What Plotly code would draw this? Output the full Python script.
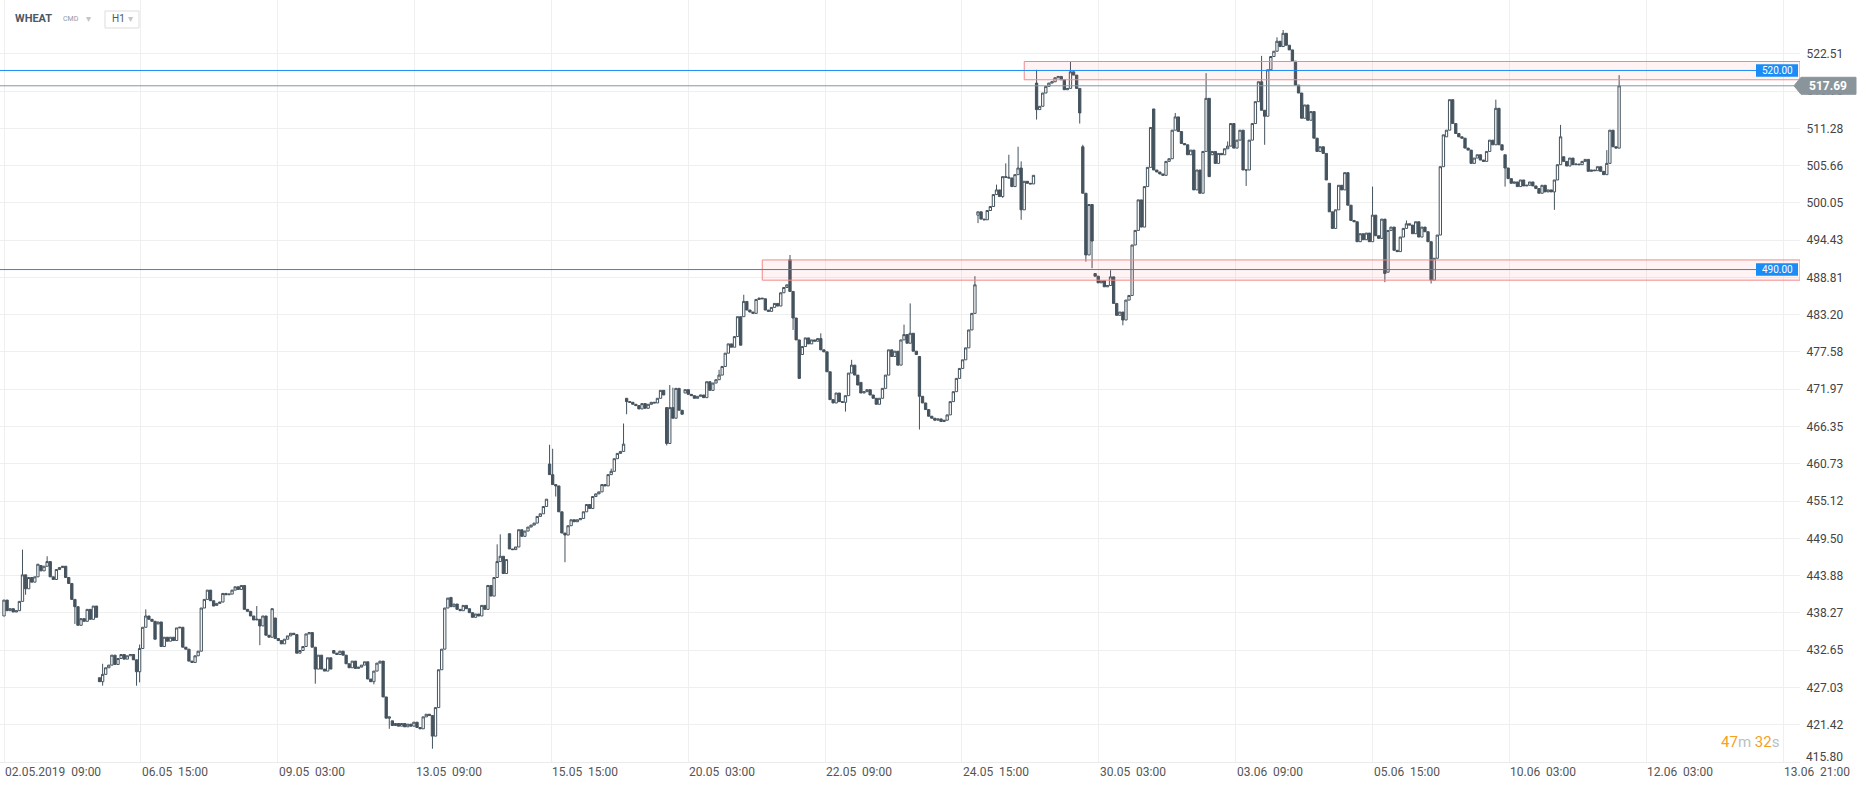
import plotly.graph_objects as go

# ---------------- data (hourly bars, 02:00-20:00 sessions) ----------------
days = ["02.05", "03.05", "06.05", "07.05", "08.05", "09.05", "10.05", "13.05",
        "14.05", "15.05", "16.05", "17.05", "20.05", "21.05", "22.05", "23.05",
        "24.05", "28.05", "29.05", "30.05", "31.05", "03.06", "04.06", "05.06",
        "06.06", "07.06", "10.06", "11.06"]
first_hours = [9] + [2] * 27
day_opens = [437.8, 445.4, 428.5, 436.6, 439.4, 437.5, 432.6, 422.0,
             440.6, 450.2, 450.0, 470.6, 471.4, 482.9, 477.2, 473.0,
             476.9, 498.2, 518.1, 489.4, 514.2, 507.3, 520.1, 503.0,
             489.6, 510.0, 507.3, 507.0]

c_0205 = [440.2, 438.6, 438.9, 438.4, 438.6, 440.0, 444.0, 441.9, 443.6, 442.9, 443.7, 445.6]
c_0305 = [444.6, 445.3, 446.0, 443.7, 443.3, 444.8, 445.1, 445.3, 443.6, 442.7, 440.3, 439.2,
          436.4, 437.4, 437.0, 438.8, 437.3, 439.3, 437.6]
c_0605 = [427.9, 429.0, 430.0, 430.4, 431.9, 430.5, 431.4, 432.0, 431.3, 431.8, 432.0, 431.2,
          429.4, 432.9, 436.1, 437.8, 437.3, 437.0, 434.3]
c_0705 = [436.9, 433.2, 434.6, 434.0, 434.6, 434.1, 436.0, 436.1, 433.1, 432.8, 431.0, 430.8,
          431.8, 432.5, 439.0, 440.3, 441.7, 440.1, 439.3]
c_0805 = [439.7, 439.9, 441.2, 441.0, 441.1, 441.7, 442.2, 441.8, 442.4, 438.8, 438.5, 437.8,
          437.2, 437.3, 436.3, 437.8, 434.9, 434.6, 438.9]
c_0905 = [434.4, 434.1, 433.6, 434.3, 434.8, 435.2, 435.0, 432.2, 432.6, 433.2, 435.1, 435.3,
          433.1, 429.8, 431.9, 429.8, 429.5, 431.5, 429.8]
c_1005 = [432.2, 432.0, 432.5, 431.9, 430.6, 430.0, 431.0, 429.9, 430.1, 430.4, 430.9, 428.3,
          427.9, 429.5, 430.7, 431.0, 425.6, 422.4, 422.6]
c_1305 = [421.3, 421.6, 421.2, 421.6, 421.1, 421.5, 421.2, 421.8, 421.0, 420.8, 422.6, 423.0,
          422.8, 419.7, 424.0, 429.7, 432.8, 439.0, 440.5]
c_1405 = [439.2, 439.6, 438.8, 438.6, 439.4, 438.9, 438.3, 437.6, 438.1, 437.8, 439.4, 438.8,
          442.4, 440.8, 443.6, 446.0, 446.8, 444.2, 446.3]
c_1505 = [447.9, 447.8, 448.2, 450.8, 449.8, 450.6, 451.2, 451.5, 451.8, 452.8, 453.2, 454.3,
          455.4, 459.1, 457.6, 457.4, 453.5, 450.3, 450.0]
c_1605 = [451.4, 452.3, 452.0, 452.3, 452.5, 453.5, 454.6, 454.0, 455.8, 456.2, 456.5, 457.6,
          457.4, 459.1, 459.6, 461.5, 462.3, 462.6, 463.7]
c_1705 = [470.1, 470.0, 469.7, 469.5, 469.0, 469.8, 469.1, 469.7, 470.0, 469.9, 470.6, 471.8,
          471.1, 463.8, 469.2, 467.6, 472.1, 468.8, 468.2]
c_2005 = [471.9, 471.2, 471.0, 470.6, 470.9, 471.1, 470.7, 473.1, 471.8, 472.9, 473.4, 474.1,
          475.4, 477.4, 478.8, 478.3, 479.9, 482.9, 478.6]
c_2105 = [485.2, 483.9, 483.6, 483.4, 485.5, 485.7, 485.6, 483.9, 483.7, 484.3, 484.9, 484.5,
          486.5, 487.3, 487.7, 486.7, 482.7, 479.4, 473.6]
c_2205 = [478.4, 479.7, 478.8, 479.4, 479.2, 479.6, 477.9, 477.6, 474.6, 470.4, 469.9, 471.4,
          470.1, 470.0, 471.0, 474.4, 475.6, 474.1, 472.6]
c_2305 = [471.4, 471.6, 471.9, 471.1, 470.6, 469.7, 470.6, 472.1, 474.1, 477.9, 476.9, 477.7,
          475.6, 479.4, 480.2, 478.9, 480.4, 477.7, 477.2]
c_2405 = [470.9, 469.9, 468.9, 467.9, 467.6, 467.3, 467.5, 467.1, 467.3, 468.1, 470.1, 471.6,
          473.6, 475.1, 476.4, 478.2, 480.9, 483.4, 487.7]
c_2805 = [498.7, 497.6, 497.5, 498.9, 499.5, 501.3, 502.0, 501.0, 504.0, 503.9, 503.8, 502.5,
          504.3, 505.3, 499.0, 503.3, 503.0, 502.9, 504.2]
c_2905 = [514.1, 514.6, 516.6, 517.6, 518.1, 518.3, 518.9, 519.1, 518.6, 517.1, 517.3, 519.8,
          519.3, 517.3, 513.6, 501.5, 492.2, 499.8, 494.3]
c_3005 = [489.0, 488.0, 488.3, 487.4, 487.6, 488.9, 484.9, 483.1, 483.6, 482.4, 485.4, 486.1,
          493.7, 495.9, 500.5, 496.4, 502.5, 505.4, 511.4]
c_3105 = [505.0, 504.7, 504.4, 504.2, 506.3, 506.7, 511.0, 513.0, 510.8, 509.0, 508.8, 507.3,
          508.0, 502.0, 505.0, 501.5, 507.8, 515.8, 504.0]
c_0306 = [507.8, 506.0, 507.5, 507.3, 508.2, 508.6, 512.0, 508.3, 509.5, 511.0, 505.0, 505.0,
          509.5, 512.0, 515.3, 518.3, 514.0, 513.1, 520.1]
c_0406 = [522.1, 522.9, 524.4, 523.6, 525.6, 523.8, 523.1, 521.4, 517.8, 516.6, 512.8, 514.8,
          512.5, 513.8, 509.8, 507.8, 508.5, 507.5, 503.5]
c_0506 = [498.7, 496.2, 499.0, 502.7, 502.0, 504.6, 499.7, 497.4, 497.2, 494.2, 495.4, 494.5,
          495.5, 494.2, 498.2, 495.1, 494.7, 497.6, 489.4]
c_0606 = [495.9, 496.4, 492.9, 492.7, 494.9, 496.2, 496.9, 496.7, 495.4, 497.2, 494.9, 496.4,
          495.7, 494.2, 488.4, 491.7, 495.2, 505.5, 510.3]
c_0706 = [511.0, 515.6, 512.0, 510.5, 510.0, 509.8, 508.3, 508.0, 506.0, 506.8, 507.3, 506.5,
          506.3, 507.8, 509.5, 508.8, 514.3, 508.8, 508.0]
c_1006 = [505.3, 503.7, 503.0, 503.2, 502.5, 503.5, 502.6, 502.7, 503.2, 502.6, 502.2, 501.5,
          502.7, 501.7, 502.0, 501.7, 503.5, 505.8, 510.0]
c_1106 = [506.3, 505.6, 506.8, 505.8, 505.9, 505.8, 506.3, 506.6, 504.8, 505.0, 504.9, 505.5,
          504.8, 504.3, 506.0, 511.0, 508.5, 508.3, 517.69]

closes_by_day = [c_0205, c_0305, c_0605, c_0705, c_0805, c_0905, c_1005, c_1305,
                 c_1405, c_1505, c_1605, c_1705, c_2005, c_2105, c_2205, c_2305,
                 c_2405, c_2805, c_2905, c_3005, c_3105, c_0306, c_0406, c_0506,
                 c_0606, c_0706, c_1006, c_1106]

# opens that gap away from the previous close (inside a day)
gap_opens = {"15.05 15": 460.7, "17.05 15": 469.2, "21.05 17": 491.5, "29.05 17": 508.5}

# notable wicks
wick_high = {
    "02.05 15": 447.8, "03.05 04": 446.8, "06.05 03": 430.6, "06.05 15": 433.5,
    "06.05 17": 438.8, "08.05 15": 439.3, "14.05 17": 448.6, "14.05 18": 450.1,
    "15.05 15": 463.6, "15.05 16": 463.0, "16.05 16": 460.0, "16.05 20": 466.8,
    "17.05 16": 472.6, "17.05 17": 472.2, "20.05 13": 474.9, "21.05 02": 486.2,
    "21.05 17": 492.2, "22.05 08": 480.4, "22.05 18": 476.4, "23.05 16": 481.7,
    "23.05 18": 484.9, "24.05 20": 489.0, "28.05 08": 502.8, "28.05 11": 506.0,
    "28.05 12": 507.3, "28.05 15": 508.5, "28.05 16": 506.3, "29.05 02": 520.1,
    "29.05 13": 521.3, "29.05 17": 508.8, "30.05 07": 489.9, "31.05 09": 513.6,
    "31.05 19": 519.6, "03.06 07": 509.3, "03.06 18": 522.2, "04.06 04": 525.0,
    "04.06 06": 526.1, "05.06 16": 502.5, "06.06 08": 497.4, "07.06 18": 515.6,
    "10.06 20": 511.8, "11.06 16": 508.0, "11.06 20": 519.3,
}
wick_low = {
    "02.05 16": 441.0, "03.05 13": 436.6, "06.05 03": 427.3, "06.05 14": 427.3,
    "06.05 15": 427.8, "08.05 16": 433.4, "09.05 15": 427.6, "10.05 15": 427.5,
    "10.05 20": 420.8, "13.05 15": 417.8, "15.05 17": 455.8, "15.05 20": 445.9,
    "17.05 02": 468.2, "17.05 15": 463.5, "21.05 18": 480.9, "22.05 16": 468.6,
    "24.05 02": 465.9, "28.05 02": 497.0, "28.05 10": 500.8, "28.05 16": 497.5,
    "29.05 02": 512.6, "29.05 16": 512.0, "29.05 18": 491.2, "29.05 20": 490.2,
    "30.05 11": 481.6, "03.06 13": 502.6, "03.06 19": 508.8, "05.06 20": 488.1,
    "06.06 16": 487.9, "10.06 02": 502.5, "10.06 18": 499.0,
}

y_tick_text = ["415.80", "421.42", "427.03", "432.65", "438.27", "443.88", "449.50",
               "455.12", "460.73", "466.35", "471.97", "477.58", "483.20", "488.81",
               "494.43", "500.05", "505.66", "511.28", "516.90", "522.51"]
x_tick_text = ["02.05.2019  09:00", "06.05  15:00", "09.05  03:00", "13.05  09:00",
               "15.05  15:00", "20.05  03:00", "22.05  09:00", "24.05  15:00",
               "30.05  03:00", "03.06  09:00", "05.06  15:00", "10.06  03:00",
               "12.06  03:00", "13.06  21:00"]
bars_per_grid = 44.4

level_lines = [520.00, 490.00]
last_price = 517.69
zones = [(331, 518.6, 521.35), (246, 488.4, 491.45)]

# ---------------- build OHLC ----------------
o, h, l, c = [], [], [], []
prev = None
for d, fh, op, cl in zip(days, first_hours, day_opens, closes_by_day):
    for i, v in enumerate(cl):
        key = f"{d} {fh + i:02d}"
        if i == 0:
            ov = op
        elif key in gap_opens:
            ov = gap_opens[key]
        else:
            ov = prev
        hv = max(ov, v, wick_high.get(key, -1e9))
        lv = min(ov, v, wick_low.get(key, 1e9))
        o.append(ov); h.append(hv); l.append(lv); c.append(v)
        prev = v
x = list(range(len(c)))

# ---------------- figure ----------------
W, H = 1866, 788
PLOT_W = 1800
PLOT_H = 762
PX_PER_UNIT = 37.27 / 5.6158
y_lo = 415.80
y_hi = y_lo + PLOT_H / PX_PER_UNIT
x_lo = -4 / 3.0823
x_hi = x_lo + PLOT_W / 3.0823

candle_col = "#44535e"
fig = go.Figure()
fig.add_trace(go.Candlestick(
    x=x, open=o, high=h, low=l, close=c,
    increasing=dict(line=dict(color=candle_col, width=1), fillcolor="#ffffff"),
    decreasing=dict(line=dict(color=candle_col, width=1), fillcolor=candle_col),
    whiskerwidth=0, hoverinfo="skip", showlegend=False,
))

shapes = []
for x0, z0, z1 in zones:
    shapes.append(dict(type="rect", xref="x", yref="y", x0=x0, x1=x_hi, y0=z0, y1=z1,
                       line=dict(color="#f08a8a", width=1), fillcolor="rgba(255,90,90,0.07)",
                       layer="above"))
for lv in level_lines:
    shapes.append(dict(type="line", xref="paper", yref="y", x0=0, x1=1756 / PLOT_W, y0=lv, y1=lv,
                       line=dict(color="#1a8cf5", width=1), layer="above"))
shapes.append(dict(type="line", xref="paper", yref="y", x0=0, x1=1794 / PLOT_W,
                   y0=last_price, y1=last_price, line=dict(color="#8c969c", width=1), layer="above"))
hh = 8.5 / PX_PER_UNIT
ax0, ax1, ax2 = 1794 / PLOT_W, 1801 / PLOT_W, 1856 / PLOT_W
shapes.append(dict(type="path", xref="paper", yref="y",
                   path=f"M {ax0},{last_price} L {ax1},{last_price + hh} L {ax2},{last_price + hh} "
                        f"L {ax2},{last_price - hh} L {ax1},{last_price - hh} Z",
                   fillcolor="#8a959b", line=dict(color="#8a959b", width=1), layer="above"))
bh = 6.3 / PX_PER_UNIT
for lv in level_lines:
    shapes.append(dict(type="rect", xref="paper", yref="y", x0=1756 / PLOT_W, x1=1798 / PLOT_W,
                       y0=lv - bh, y1=lv + bh, fillcolor="#1a8cf5",
                       line=dict(color="#1a8cf5", width=0), layer="above"))
shapes.append(dict(type="rect", xref="paper", yref="paper", x0=105 / PLOT_W, x1=139 / PLOT_W,
                   y0=1 - 28 / PLOT_H, y1=1 - 11 / PLOT_H, line=dict(color="#dddddd", width=1),
                   fillcolor="#ffffff", layer="above"))

ann = []
for k, t in enumerate(x_tick_text):
    ann.append(dict(x=k * bars_per_grid, xref="x", y=0, yref="paper", text=t.replace("  ", "\u00a0\u00a0"),
                    showarrow=False, xanchor="left", yanchor="top", yshift=-1, xshift=-1,
                    font=dict(family="Roboto", size=12, color="#555555")))
ann.append(dict(x=1804 / PLOT_W, xref="paper", y=1 - 757 / PLOT_H, yref="paper", text=y_tick_text[0],
                showarrow=False, xanchor="left", yanchor="middle",
                font=dict(family="Roboto", size=12, color="#444444")))
for lv in level_lines:
    ann.append(dict(x=1777 / PLOT_W, xref="paper", y=lv, yref="y", text=f"{lv:.2f}",
                    showarrow=False, xanchor="center", yanchor="middle",
                    font=dict(family="Roboto", size=10, color="#ffffff")))
ann.append(dict(x=1828 / PLOT_W, xref="paper", y=last_price, yref="y", text=f"<b>{last_price:.2f}</b>",
                showarrow=False, xanchor="center", yanchor="middle",
                font=dict(family="Roboto", size=12, color="#ffffff")))
hy = 1 - 19 / PLOT_H
ann.append(dict(x=13 / PLOT_W, xref="paper", y=hy, yref="paper", text="<b>WHEAT</b>",
                showarrow=False, xanchor="left", yanchor="middle",
                font=dict(family="Roboto", size=11, color="#4b5966")))
ann.append(dict(x=61 / PLOT_W, xref="paper", y=hy, yref="paper", text="CMD",
                showarrow=False, xanchor="left", yanchor="middle",
                font=dict(family="Roboto", size=7, color="#8a9aa8")))
ann.append(dict(x=84 / PLOT_W, xref="paper", y=hy, yref="paper", text="\u25be",
                showarrow=False, xanchor="left", yanchor="middle",
                font=dict(family="DejaVu Sans", size=10, color="#c0c6cc")))
ann.append(dict(x=110 / PLOT_W, xref="paper", y=hy, yref="paper", text="H1",
                showarrow=False, xanchor="left", yanchor="middle",
                font=dict(family="Roboto", size=10, color="#4b5966")))
ann.append(dict(x=126 / PLOT_W, xref="paper", y=hy, yref="paper", text="\u25be",
                showarrow=False, xanchor="left", yanchor="middle",
                font=dict(family="DejaVu Sans", size=10, color="#c0c6cc")))
ann.append(dict(x=1781 / PLOT_W, xref="paper", y=1 - 742 / PLOT_H, yref="paper",
                text="<span style='color:#f7a01e'>47</span><span style='color:#b9bfc4'>m</span> "
                     "<span style='color:#f7a01e'>32</span><span style='color:#b9bfc4'>s</span>",
                showarrow=False, xanchor="right", yanchor="middle",
                font=dict(family="Roboto", size=15, color="#f7a01e")))

ytext = [""] + y_tick_text[1:]
fig.update_layout(
    width=W, height=H,
    margin=dict(l=0, r=W - PLOT_W, t=0, b=H - PLOT_H),
    paper_bgcolor="#ffffff", plot_bgcolor="#ffffff",
    shapes=shapes, annotations=ann,
    boxgap=0.25, boxgroupgap=0,
    xaxis=dict(range=[x_lo, x_hi], showgrid=True, gridcolor="#efefef", gridwidth=1,
               tickvals=[k * bars_per_grid for k in range(len(x_tick_text))],
               showticklabels=False, zeroline=False, rangeslider=dict(visible=False),
               showline=True, linecolor="#ebebeb", linewidth=1, fixedrange=True),
    yaxis=dict(range=[y_lo, y_hi], side="right", showgrid=True, gridcolor="#efefef", gridwidth=1,
               tickvals=[float(t) for t in y_tick_text], ticktext=ytext,
               ticks="outside", ticklen=3, tickcolor="rgba(0,0,0,0)",
               tickfont=dict(family="Roboto", size=12, color="#444444"),
               zeroline=False, fixedrange=True),
    hovermode=False,
)

fig.write_html("out.html", config={"displayModeBar": False},
               post_script="document.body.style.margin='0';document.body.style.padding='0';")
